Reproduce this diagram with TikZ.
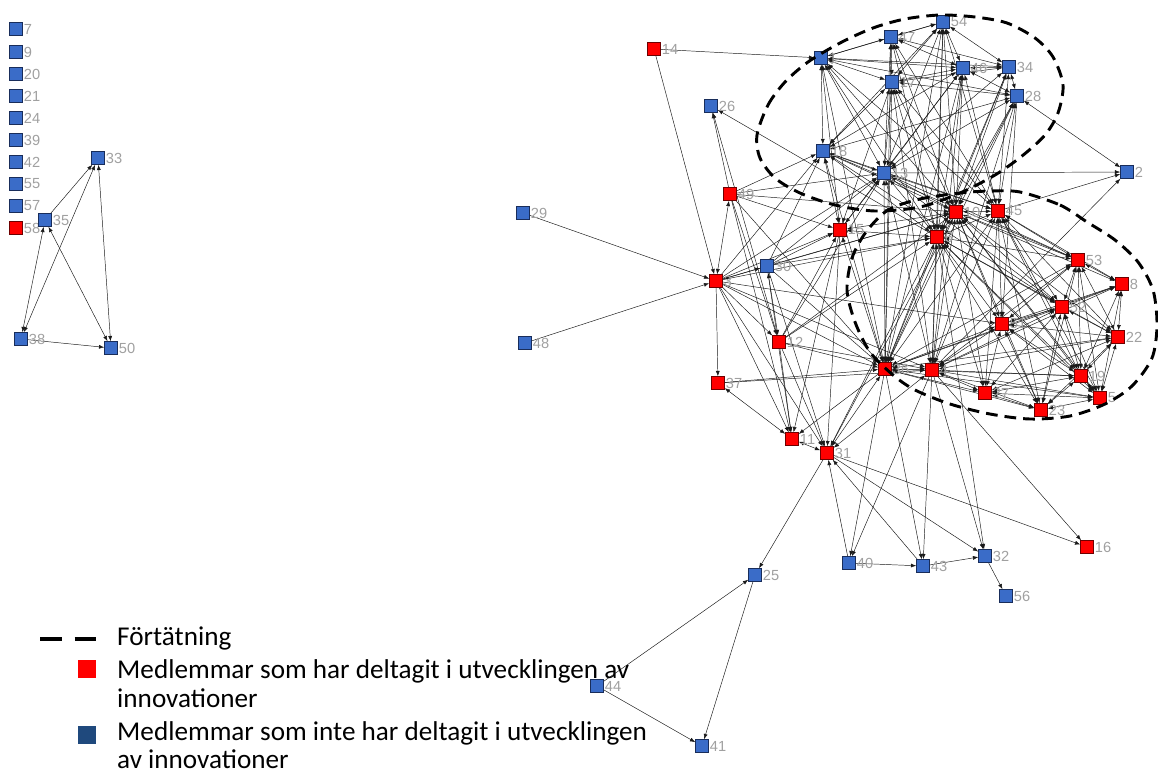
\documentclass[tikz,border=0pt]{standalone}
\usepackage{fontspec}
\setmainfont{Carlito}
\newfontfamily\lblfont{Liberation Sans}
\usetikzlibrary{arrows.meta}
\definecolor{memred}{RGB}{255,0,0}
\definecolor{memredline}{RGB}{110,0,0}
\definecolor{memblue}{RGB}{58,108,200}
\definecolor{membluedark}{RGB}{25,45,90}
\definecolor{legblue}{RGB}{31,73,125}
\definecolor{lblgray}{RGB}{160,160,160}
\pgfdeclarelayer{edges}
\pgfsetlayers{edges,main}
\tikzset{x=0.03cm, y=-0.03cm,
  member/.style={rectangle, draw, line width=0.5pt, minimum size=0.39cm, inner sep=0pt},
  redmem/.style={member, fill=memred, draw=memredline},
  bluemem/.style={member, fill=memblue, draw=membluedark},
  numlbl/.style={font=\lblfont\fontsize{12.5}{13}\selectfont, text=lblgray, inner sep=0.8pt, label distance=0pt},
  lab/.style={label={[numlbl]right:#1}},
  tie/.style={line width=0.4pt, black!90, >={Latex[length=4.5pt,width=3.4pt]}},
  dense/.style={line width=2.5pt, dash pattern=on 10pt off 6pt},
  legtext/.style={font=\fontsize{23.2}{28}\selectfont, anchor=base west, inner sep=0pt}}

\begin{document}
\begin{tikzpicture}
\useasboundingbox (0,0) rectangle (1158,773);

% isolates and small group
\node[bluemem, lab=7] (n7) at (16,29) {};
\node[bluemem, lab=9] (n9) at (16,52) {};
\node[bluemem, lab=20] (n20) at (16,74) {};
\node[bluemem, lab=21] (n21) at (16,96) {};
\node[bluemem, lab=24] (n24) at (16,118) {};
\node[bluemem, lab=39] (n39) at (16,140) {};
\node[bluemem, lab=42] (n42) at (16,162) {};
\node[bluemem, lab=55] (n55) at (16,184) {};
\node[bluemem, lab=57] (n57) at (16,206) {};
\node[redmem, lab=58] (n58) at (16,228) {};
\node[bluemem, lab=33] (n33) at (98,158) {};
\node[bluemem, lab=35] (n35) at (45,220) {};
\node[bluemem, lab=38] (n38) at (21,339) {};
\node[bluemem, lab=50] (n50) at (111,348) {};

% main network
\node[redmem, lab=14] (n14) at (654,49) {};
\node[bluemem, lab=1] (n1) at (821,58) {};
\node[bluemem, lab=47] (n47) at (891,37) {};
\node[bluemem, lab=54] (n54) at (943,22) {};
\node[bluemem, lab=17] (n17) at (892,82) {};
\node[bluemem, lab=46] (n46) at (963,68) {};
\node[bluemem, lab=34] (n34) at (1009,67) {};
\node[bluemem, lab=28] (n28) at (1017,96) {};
\node[bluemem, lab=26] (n26) at (711,106) {};
\node[bluemem, lab=18] (n18) at (823,151) {};
\node[bluemem, lab=13] (n13) at (884,173) {};
\node[bluemem, lab=2] (n2) at (1127,172) {};
\node[redmem, lab=49] (n49) at (730,194) {};
\node[bluemem, lab=29] (n29) at (523,213) {};
\node[redmem, lab=15] (n15) at (840,230) {};
\node[redmem, lab=10] (n10) at (956,212) {};
\node[redmem, lab=45] (n45) at (998,211) {};
\node[redmem, lab=6] (n6) at (937,237) {};
\node[bluemem, lab=30] (n30) at (767,266) {};
\node[redmem, lab=3] (n3) at (716,281) {};
\node[redmem, lab=53] (n53) at (1078,260) {};
\node[redmem, lab=8] (n8) at (1122,284) {};
\node[redmem, lab=52] (n52) at (1062,307) {};
\node[redmem, lab=51] (n51) at (1002,324) {};
\node[redmem, lab=22] (n22) at (1118,337) {};
\node[redmem, lab=12] (n12) at (779,342) {};
\node[bluemem, lab=48] (n48) at (525,343) {};
\node[redmem, lab=36] (n36) at (885,369) {};
\node[redmem, lab=4] (n4) at (932,370) {};
\node[redmem, lab=19] (n19) at (1081,376) {};
\node[redmem, lab=27] (n27) at (985,393) {};
\node[redmem, lab=5] (n5) at (1100,398) {};
\node[redmem, lab=23] (n23) at (1041,410) {};
\node[redmem, lab=37] (n37) at (718,383) {};
\node[redmem, lab=11] (n11) at (792,439) {};
\node[redmem, lab=31] (n31) at (827,453) {};
\node[bluemem, lab=40] (n40) at (849,563) {};
\node[bluemem, lab=43] (n43) at (923,566) {};
\node[bluemem, lab=32] (n32) at (985,556) {};
\node[redmem, lab=16] (n16) at (1087,547) {};
\node[bluemem, lab=56] (n56) at (1006,596) {};
\node[bluemem, lab=25] (n25) at (755,575) {};
\node[bluemem, lab=44] (n44) at (597,686) {};
\node[bluemem, lab=41] (n41) at (702,746) {};

\begin{pgfonlayer}{edges}
\foreach \a/\b in {35/33, 38/50, 14/1, 14/3, 29/3, 48/3, 49/26, 12/26, 6/26, 13/2, 45/2, 4/2,
  31/16, 4/16, 36/40, 4/40, 40/31, 40/43, 36/43, 4/43, 43/31, 43/32, 4/32, 6/32, 31/32, 32/56,
  31/25, 44/25, 25/41, 44/41, 3/37, 37/36, 37/4, 3/11, 49/11, 30/11, 12/11, 15/11, 36/11,
  3/31, 30/31, 12/31, 15/31, 6/31, 10/31, 49/18, 49/13, 49/10, 49/15, 49/36, 49/12,
  3/12, 3/36, 3/15, 3/18, 3/13, 3/6, 3/4, 3/10, 30/15, 30/13, 30/10, 30/6, 30/18,
  12/15, 12/6, 12/10, 12/13, 15/46, 3/51, 18/52, 18/53, 13/53, 13/52, 28/51, 30/36, 12/36, 12/4}
  \draw[tie,->] (n\a) -- (n\b);
\foreach \a/\b in {33/38, 33/50, 35/38, 35/50, 28/2, 37/11, 11/31, 36/31, 4/31, 49/3, 3/30, 30/12,
  15/18, 15/13, 15/10, 15/6, 15/36, 15/1, 15/17,
  36/1, 36/18, 36/13, 36/17, 36/47, 36/54, 36/46, 36/28, 36/34, 36/10, 36/6, 36/45, 36/4,
  36/53, 36/52, 36/51, 36/22, 36/19, 36/27, 36/23, 36/5, 36/8,
  4/13, 4/17, 4/54, 4/46, 4/28, 4/10, 4/6, 4/45, 4/53, 4/52, 4/51, 4/22, 4/19, 4/27, 4/23, 4/5, 4/8,
  1/47, 1/17, 1/46, 1/34, 1/28, 1/18, 1/13, 1/54, 47/54, 47/17, 47/46, 47/34, 47/13,
  17/46, 17/28, 17/34, 17/13, 17/18, 54/46, 54/34, 54/17, 54/13, 54/18, 46/34, 46/28, 46/13, 46/18,
  34/28, 34/13, 28/13, 28/18, 18/13,
  1/10, 1/6, 1/45, 47/10, 47/6, 47/45, 54/10, 54/6, 54/45, 17/10, 17/6, 17/45, 46/10, 46/6, 46/45,
  34/10, 34/6, 34/45, 28/10, 28/6, 28/45, 13/10, 13/6, 13/45, 18/10, 18/6, 18/45,
  10/45, 10/6, 6/45, 10/53, 10/8, 10/52, 10/51, 10/22, 10/19, 10/27, 10/23, 10/5,
  45/53, 45/8, 45/52, 45/51, 45/22, 45/19, 45/27, 45/23, 45/5,
  6/53, 6/52, 6/51, 6/22, 6/19, 6/27, 6/23, 6/5,
  53/8, 53/52, 53/51, 53/22, 53/19, 53/23, 53/5, 8/52, 8/22, 8/19, 8/5, 8/51,
  52/51, 52/22, 52/19, 52/27, 52/23, 52/5, 51/22, 51/19, 51/27, 51/23, 51/5,
  22/19, 22/5, 22/27, 22/23, 19/5, 19/27, 19/23, 27/23, 27/5, 23/5}
  \draw[tie,<->] (n\a) -- (n\b);
\end{pgfonlayer}

% dense parts
\draw[dense] plot[smooth cycle] coordinates {(757,135) (768,105) (785,82) (808,62) (840,43)
  (873,28) (905,19) (940,15) (975,17) (1007,23) (1035,38) (1053,57) (1063,85) (1058,113)
  (1045,135) (1022,156) (995,175) (960,193) (920,207) (875,211) (835,205) (800,193) (775,178) (760,158)};
\draw[dense] plot[smooth cycle] coordinates {(1020,192) (1060,205) (1087,222) (1115,240)
  (1138,262) (1153,290) (1157,325) (1152,358) (1132,386) (1105,404) (1070,416) (1030,419)
  (990,414) (950,404) (915,390) (893,375) (870,352) (855,322) (847,290) (852,258) (866,232)
  (888,210) (920,199) (960,193) (990,191)};

% legend
\coordinate (ldA) at (40,639);
\coordinate (ldB) at (97,639);
\draw[line width=3pt, dash pattern=on 18.5pt off 11pt] (ldA) -- (ldB);
\node[legtext] (lgDense) at (117,645) {Förtätning};
\node[rectangle, fill=memred, minimum size=0.56cm, inner sep=0pt] (lgRed) at (87,669) {};
\node[legtext] (lgRedA) at (117,678) {Medlemmar som har deltagit i utvecklingen av};
\node[legtext] (lgRedB) at (117,707) {innovationer};
\node[rectangle, fill=legblue, minimum size=0.56cm, inner sep=0pt] (lgBlue) at (87,735) {};
\node[legtext] (lgBlueA) at (117,740) {Medlemmar som inte har deltagit i utvecklingen};
\node[legtext] (lgBlueB) at (117,768) {av innovationer};
\end{tikzpicture}
\end{document}
